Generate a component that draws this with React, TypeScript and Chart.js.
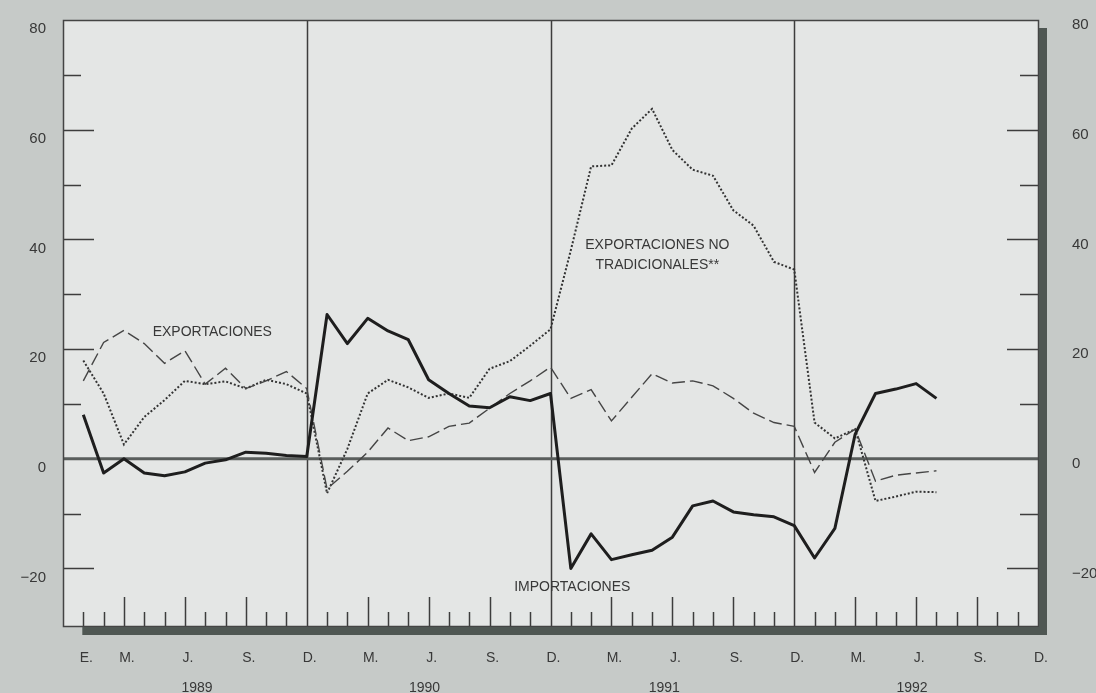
import React, { useEffect, useRef } from "react";
import { Chart, registerables } from "chart.js";

Chart.register(...registerables);

// ---- data (Jan 1989 .. Jul 1992, monthly, % variation) ----
const monthTickValues = [0, 2, 5, 8, 11, 14, 17, 20, 23, 26, 29, 32, 35, 38, 41, 44, 47];
const monthTickLabels = ["E.", "M.", "J.", "S.", "D.", "M.", "J.", "S.", "D.", "M.", "J.", "S.", "D.", "M.", "J.", "S.", "D."];
const yearTickValues = [5.6, 16.8, 28.6, 40.8];
const yearTickLabels = ["1989", "1990", "1991", "1992"];
const yTickValues = [80, 60, 40, 20, 0, -20];
const yTickLabels = ["80", "60", "40", "20", "0", "\u221220"];

const importaciones = [
  8, -2.6, 0, -2.6, -3.1, -2.4, -0.8, -0.2, 1.2, 1, 0.6, 0.4,
  26.3, 21, 25.6, 23.3, 21.7, 14.4, 11.9, 9.6, 9.3, 11.3, 10.6, 11.9,
  -20, -13.7, -18.4, -17.5, -16.7, -14.3, -8.6, -7.7, -9.7, -10.2, -10.6, -12.2,
  -18.1, -12.7, 4.5, 11.9, 12.7, 13.7, 11,
];
const exportaciones = [
  14.2, 21.2, 23.4, 21, 17.4, 19.7, 13.6, 16.5, 12.8, 14.2, 15.9, 12.8,
  -5.5, -2.3, 1.2, 5.6, 3.3, 4, 5.9, 6.5, 9.2, 11.9, 14.2, 16.7,
  11, 12.6, 6.9, 11.2, 15.5, 13.8, 14.2, 13.3, 11, 8.3, 6.6, 5.9,
  -2.5, 3, 5.4, -4.1, -3, -2.6, -2.2,
];
const noTradicionales = [
  17.9, 11.9, 2.6, 7.6, 10.7, 14.2, 13.6, 14.1, 12.8, 14.4, 13.6, 11.9,
  -6.3, 1.8, 11.9, 14.4, 13, 11.1, 11.9, 11.1, 16.4, 17.8, 20.6, 23.6,
  38, 53.3, 53.5, 60.2, 63.8, 56.3, 52.7, 51.6, 45.3, 42.5, 35.9, 34.5,
  6.6, 3.7, 5.4, -7.7, -6.9, -6, -6.1,
];

const OUTER = "#c6cac8";
const INNER = "#e4e6e5";
const TEXT = "#383838";
const BAR = "#4f5753";
const FONT = "'Liberation Sans', Arial, Helvetica, sans-serif";

const seriesLabels = [
  { text: "EXPORTACIONES", m: 6.35, v: 23.1 },
  { text: "EXPORTACIONES NO", m: 28.26, v: 39.0 },
  { text: "TRADICIONALES**", m: 28.26, v: 35.3 },
  { text: "IMPORTACIONES", m: 24.07, v: -23.4 },
];

const decoPlugin = {
  id: "deco",
  beforeDraw(chart: any) {
    const { ctx, chartArea: a, width, height } = chart;
    ctx.save();
    ctx.fillStyle = OUTER;
    ctx.fillRect(0, 0, width, height);
    ctx.fillStyle = INNER;
    ctx.fillRect(a.left, a.top, a.right - a.left, a.bottom - a.top);
    ctx.restore();
  },
  beforeDatasetsDraw(chart: any) {
    const { ctx, chartArea: a } = chart;
    const xs = chart.scales.x;
    const ys = chart.scales.y;
    ctx.save();
    ctx.strokeStyle = "#3d3d3d";
    ctx.lineWidth = 1.5;
    for (let v = -20; v <= 70; v += 10) {
      if (v === 0) continue;
      const py = Math.round(ys.getPixelForValue(v)) + 0.5;
      const len = v % 20 === 0 ? 31 : 18;
      ctx.beginPath();
      ctx.moveTo(a.left, py);
      ctx.lineTo(a.left + len, py);
      ctx.moveTo(a.right, py);
      ctx.lineTo(a.right - len, py);
      ctx.stroke();
    }
    for (let m = 0; m < 47; m++) {
      const px = Math.round(xs.getPixelForValue(m)) + 0.5;
      ctx.beginPath();
      if (m % 12 === 11) {
        ctx.moveTo(px, a.top);
        ctx.lineTo(px, a.bottom);
      } else {
        const len = m % 3 === 2 ? 29 : 14;
        ctx.moveTo(px, a.bottom);
        ctx.lineTo(px, a.bottom - len);
      }
      ctx.stroke();
    }
    const y0 = ys.getPixelForValue(0);
    ctx.strokeStyle = "#5a5e5c";
    ctx.lineWidth = 3;
    ctx.beginPath();
    ctx.moveTo(a.left, y0);
    ctx.lineTo(a.right, y0);
    ctx.stroke();
    ctx.restore();
  },
  afterDatasetsDraw(chart: any) {
    const { ctx } = chart;
    const xs = chart.scales.x;
    const ys = chart.scales.y;
    ctx.save();
    ctx.fillStyle = TEXT;
    ctx.font = `14px ${FONT}`;
    ctx.textAlign = "center";
    ctx.textBaseline = "middle";
    for (const l of seriesLabels) {
      ctx.fillText(l.text, xs.getPixelForValue(l.m), ys.getPixelForValue(l.v));
    }
    ctx.restore();
  },
  afterDraw(chart: any) {
    const { ctx, chartArea: a } = chart;
    const xs = chart.scales.x;
    ctx.save();
    ctx.strokeStyle = "#444";
    ctx.lineWidth = 1.5;
    ctx.strokeRect(a.left + 0.5, a.top + 0.5, a.right - a.left, a.bottom - a.top);
    ctx.fillStyle = BAR;
    const x0 = xs.getPixelForValue(0) - 1;
    ctx.fillRect(x0, a.bottom + 1, a.right + 9 - x0, 8);
    ctx.fillRect(a.right + 1, a.top + 8, 8, a.bottom - a.top + 1);
    ctx.restore();
  },
};

const fitY = (w: number) => (s: any) => {
  s.width = w;
  s.paddingTop = 0;
  s.paddingBottom = 0;
};
const fitX = (h: number) => (s: any) => {
  s.height = h;
  s.paddingLeft = 0;
  s.paddingRight = 0;
};

export default function App() {
  const ref = useRef<HTMLCanvasElement | null>(null);
  useEffect(() => {
    if (!ref.current) return;
    const toPts = (arr: number[]) => arr.map((v, i) => ({ x: i, y: v }));
    const chart = new Chart(ref.current, {
      type: "line",
      data: {
        datasets: [
          {
            label: "IMPORTACIONES",
            data: toPts(importaciones),
            borderColor: "#1e1e1e",
            borderWidth: 3,
            pointRadius: 0,
            tension: 0,
            borderJoinStyle: "round",
          },
          {
            label: "EXPORTACIONES",
            data: toPts(exportaciones),
            borderColor: "#454545",
            borderWidth: 1.4,
            borderDash: [13, 5],
            pointRadius: 0,
            tension: 0,
          },
          {
            label: "EXPORTACIONES NO TRADICIONALES",
            data: toPts(noTradicionales),
            borderColor: "#333",
            borderWidth: 2,
            borderDash: [2, 2],
            pointRadius: 0,
            tension: 0,
          },
        ],
      },
      options: {
        responsive: false,
        animation: false,
        devicePixelRatio: 1,
        layout: { padding: { top: 20, left: 0, right: 0, bottom: 0 } },
        plugins: { legend: { display: false }, tooltip: { enabled: false } },
        scales: {
          x: {
            type: "linear",
            position: "bottom",
            min: -1,
            max: 47,
            weight: 0,
            grid: { display: false, drawTicks: false },
            border: { display: false },
            afterBuildTicks: (s: any) => {
              s.ticks = monthTickValues.map((v) => ({ value: v }));
            },
            afterFit: fitX(45),
            ticks: {
              autoSkip: false,
              maxRotation: 0,
              minRotation: 0,
              padding: 24,
              labelOffset: 3,
              color: TEXT,
              font: { family: FONT, size: 14 },
              callback: (_v: any, i: number) => monthTickLabels[i],
            },
          },
          x2: {
            type: "linear",
            position: "bottom",
            min: -1,
            max: 47,
            weight: 1,
            grid: { display: false, drawTicks: false },
            border: { display: false },
            afterBuildTicks: (s: any) => {
              s.ticks = yearTickValues.map((v) => ({ value: v }));
            },
            afterFit: fitX(22),
            ticks: {
              autoSkip: false,
              maxRotation: 0,
              minRotation: 0,
              padding: 9,
              color: TEXT,
              font: { family: FONT, size: 14 },
              callback: (_v: any, i: number) => yearTickLabels[i],
            },
          },
          y: {
            type: "linear",
            position: "left",
            min: -30.5,
            max: 80,
            grid: { display: false, drawTicks: false },
            border: { display: false },
            afterBuildTicks: (s: any) => {
              s.ticks = yTickValues.map((v) => ({ value: v }));
            },
            afterFit: fitY(63),
            ticks: {
              padding: 17,
              labelOffset: 9,
              color: TEXT,
              font: { family: FONT, size: 15 },
              callback: (_v: any, i: number) => yTickLabels[i],
            },
          },
          y2: {
            type: "linear",
            position: "right",
            min: -30.5,
            max: 80,
            grid: { display: false, drawTicks: false },
            border: { display: false },
            afterBuildTicks: (s: any) => {
              s.ticks = yTickValues.map((v) => ({ value: v }));
            },
            afterFit: fitY(58),
            ticks: {
              padding: 34,
              labelOffset: 5,
              color: TEXT,
              font: { family: FONT, size: 15 },
              callback: (_v: any, i: number) => yTickLabels[i],
            },
          },
        },
      },
      plugins: [decoPlugin],
    } as any);
    return () => chart.destroy();
  }, []);
  return (
    <div style={{ position: "fixed", left: 0, top: 0, width: 1096, height: 693, background: OUTER }}>
      <canvas ref={ref} width={1096} height={693} style={{ display: "block" }} />
    </div>
  );
}
